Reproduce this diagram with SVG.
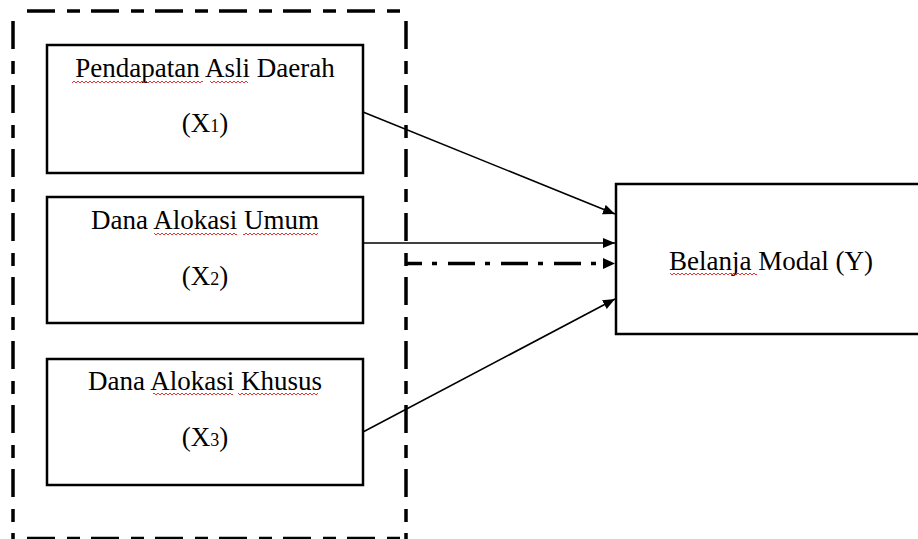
<svg xmlns="http://www.w3.org/2000/svg" width="918" height="539" viewBox="0 0 918 539">
  <style>
    .frame { fill: none; stroke: #000; stroke-width: 3.5; stroke-dasharray: 28 12 13 11; }
    .box { fill: #fff; stroke: #000; stroke-width: 2.5; }
    .lbl { font-family: "Liberation Serif", "Times New Roman", serif; font-size: 27px; fill: #000; text-anchor: middle; }
    .sub { font-size: 18px; }
    .conn { fill: none; stroke: #000; stroke-width: 1.6; }
    .dashdot { fill: none; stroke: #000; stroke-width: 3.5; stroke-dasharray: 27 10 5 11; stroke-dashoffset: 11; }
    .squig { fill: url(#sq); }
  </style>
  <defs>
    <marker id="arr" markerUnits="userSpaceOnUse" markerWidth="13" markerHeight="11" refX="12" refY="5.5" orient="auto">
      <path d="M0,0.5 L12,5.5 L0,10.5 z" fill="#000"/>
    </marker>
    <marker id="arr2" markerUnits="userSpaceOnUse" markerWidth="13" markerHeight="12" refX="4" refY="6" orient="auto">
      <path d="M0,0.5 L12,6 L0,11.5 z" fill="#000"/>
    </marker>
    <pattern id="sq" width="4" height="4" patternUnits="userSpaceOnUse">
      <path d="M0,3 L2,1 L4,3" fill="none" stroke="#e02020" stroke-width="0.9"/>
    </pattern>
  </defs>

  <rect width="918" height="539" fill="#fff"/>

  <g id="frame">
    <line class="frame" x1="27" y1="11" x2="401" y2="11"/>
    <line class="frame" x1="13" y1="21" x2="13" y2="539"/>
    <line class="frame" x1="406" y1="21" x2="406" y2="539"/>
    <line class="frame" x1="27" y1="538.5" x2="401" y2="538.5"/>
  </g>

  <g id="connectors">
    <line class="conn" x1="363" y1="112" x2="615" y2="214" marker-end="url(#arr)"/>
    <line class="conn" x1="363" y1="243" x2="615" y2="243" marker-end="url(#arr)"/>
    <line class="dashdot" x1="406" y1="263.5" x2="607" y2="263.5" marker-end="url(#arr2)"/>
    <line class="conn" x1="363" y1="432" x2="615" y2="299" marker-end="url(#arr)"/>
  </g>

  <g id="x1">
    <rect class="box" x="47" y="45" width="316" height="128"/>
    <text class="lbl" x="205" y="77">Pendapatan Asli Daerah</text>
    <text class="lbl" x="205" y="132">(X<tspan class="sub">1</tspan>)</text>
    <rect class="squig" x="72" y="80" width="131" height="4"/>
    <rect class="squig" x="210" y="80" width="38" height="4"/>
  </g>

  <g id="x2">
    <rect class="box" x="47" y="197" width="316" height="126"/>
    <text class="lbl" x="205" y="229">Dana Alokasi Umum</text>
    <text class="lbl" x="205" y="285">(X<tspan class="sub">2</tspan>)</text>
    <rect class="squig" x="154" y="232" width="83" height="4"/>
    <rect class="squig" x="243" y="232" width="75" height="4"/>
  </g>

  <g id="x3">
    <rect class="box" x="47" y="359" width="316" height="126"/>
    <text class="lbl" x="205" y="390">Dana Alokasi Khusus</text>
    <text class="lbl" x="205" y="446">(X<tspan class="sub">3</tspan>)</text>
    <rect class="squig" x="153" y="392" width="80" height="4"/>
    <rect class="squig" x="238" y="392" width="80" height="4"/>
  </g>

  <g id="y">
    <rect class="box" x="616" y="184" width="310" height="150"/>
    <text class="lbl" x="771" y="270">Belanja Modal (Y)</text>
    <rect class="squig" x="670" y="272" width="87" height="4"/>
  </g>
</svg>
